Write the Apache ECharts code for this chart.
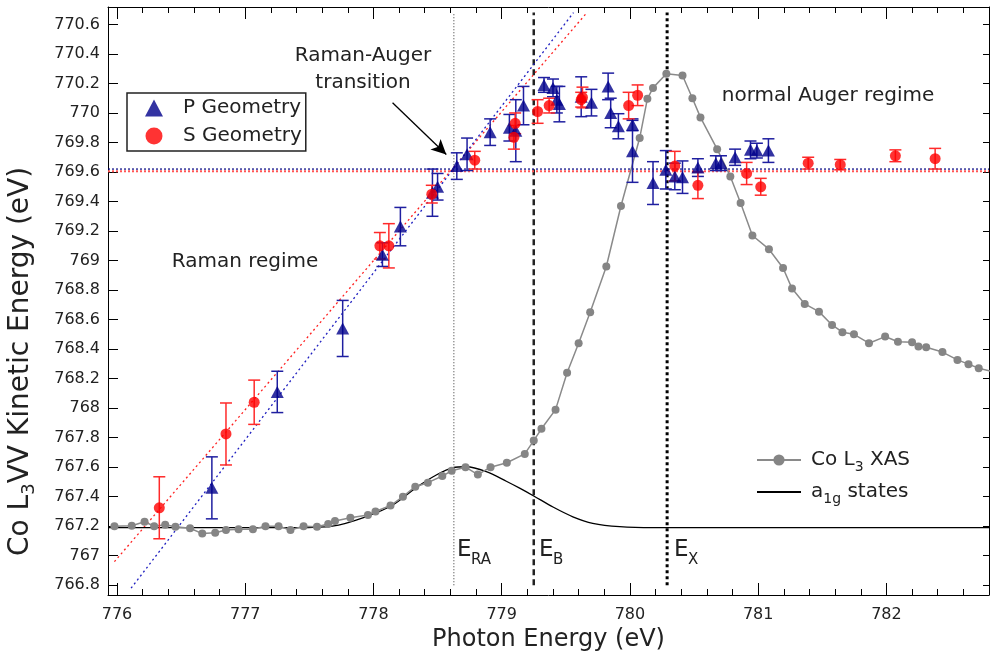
<!DOCTYPE html>
<html>
<head>
<meta charset="utf-8">
<script src="https://cdn.jsdelivr.net/npm/echarts@6/dist/echarts.min.js"></script>
<style>
  body { margin: 0; background: #fff; }
  #chart { width: 990px; height: 658px; }
</style>
</head>
<body>
<div id="chart"></div>
<script>
// axis ranges and ticks
const xMin = 775.93, xMax = 782.8;
const yMin = 766.734, yMax = 770.718;
const xTickLabels = ['776', '777', '778', '779', '780', '781', '782'];
const yTickLabels = ['766.8', '767', '767.2', '767.4', '767.6', '767.8', '768', '768.2', '768.4',
  '768.6', '768.8', '769', '769.2', '769.4', '769.6', '769.8', '770', '770.2', '770.4', '770.6'];
const xMajor = xTickLabels.map(Number);
const yTicks = yTickLabels.map(Number);
const xMinor = [];
for (let k = 1; k < 35; k++) {
  if (k % 5) xMinor.push(Math.round((776 + k * 0.2) * 10) / 10);
}

// P geometry (blue triangles)
const pX = [776.74, 777.25, 777.76, 778.07, 778.21, 778.46, 778.50, 778.65, 778.73, 778.91,
  779.06, 779.11, 779.17, 779.33, 779.40, 779.43, 779.45, 779.62, 779.70, 779.83,
  779.85, 779.91, 780.02, 780.02, 780.18, 780.28, 780.35, 780.41, 780.53, 780.67,
  780.71, 780.82, 780.94, 780.99, 781.08];
const pY = [767.46, 768.11, 768.54, 769.04, 769.23, 769.46, 769.50, 769.64, 769.72, 769.87,
  769.90, 769.88, 770.05, 770.19, 770.17, 770.09, 770.06, 770.11, 770.07, 770.18,
  770.00, 769.91, 769.92, 769.74, 769.525, 769.615, 769.57, 769.565, 769.63, 769.66,
  769.66, 769.70, 769.75, 769.745, 769.745];
const pErr = [0.21, 0.14, 0.19, 0.08, 0.13, 0.16, 0.09, 0.09, 0.11, 0.09,
  0.09, 0.21, 0.13, 0.05, 0.06, 0.09, 0.12, 0.135, 0.09, 0.09,
  0.10, 0.085, 0.04, 0.21, 0.145, 0.13, 0.09, 0.11, 0.06, 0.05,
  0.05, 0.055, 0.06, 0.05, 0.08];

// S geometry (red circles)
const sX = [776.33, 776.85, 777.07, 778.05, 778.12, 778.455, 778.79, 779.095, 779.105, 779.28,
  779.37, 779.63, 779.62, 779.99, 780.06, 780.35, 780.53, 780.91, 781.02, 781.39,
  781.64, 782.07, 782.38];
const sY = [767.325, 767.825, 768.04, 769.10, 769.10, 769.45, 769.68, 769.835, 769.93, 770.01,
  770.05, 770.105, 770.09, 770.05, 770.12, 769.64, 769.51, 769.59, 769.50, 769.66,
  769.65, 769.71, 769.69];
const sErr = [0.21, 0.21, 0.15, 0.09, 0.15, 0.06, 0.06, 0.08, 0.07, 0.08,
  0.05, 0.07, 0.05, 0.09, 0.07, 0.10, 0.09, 0.075, 0.057, 0.04,
  0.035, 0.04, 0.07];

// Co L3 XAS (gray, plotted on the same axes)
const xasX = [775.98, 776.115, 776.215, 776.29, 776.376, 776.456, 776.57, 776.665, 776.766, 776.85,
  776.948, 777.06, 777.158, 777.26, 777.353, 777.455, 777.56, 777.647, 777.70, 777.82,
  777.957, 778.016, 778.133, 778.23, 778.326, 778.424, 778.537, 778.61, 778.718, 778.814,
  778.913, 779.04, 779.18, 779.25, 779.31, 779.42, 779.51, 779.60, 779.69, 779.816,
  779.93, 780.076, 780.136, 780.18, 780.284, 780.41, 780.487, 780.55, 780.68, 780.783,
  780.863, 780.955, 781.084, 781.194, 781.264, 781.363, 781.474, 781.576, 781.657, 781.747,
  781.864, 781.99, 782.09, 782.20, 782.25, 782.31, 782.437, 782.554, 782.64, 782.72, 782.86];
const xasY = [767.20, 767.203, 767.23, 767.20, 767.21, 767.197, 767.186, 767.15, 767.156, 767.174,
  767.18, 767.18, 767.20, 767.20, 767.174, 767.20, 767.197, 767.215, 767.235, 767.258,
  767.276, 767.30, 767.34, 767.40, 767.468, 767.495, 767.54, 767.576, 767.60, 767.55,
  767.60, 767.63, 767.69, 767.78, 767.86, 767.99, 768.24, 768.44, 768.65, 768.96,
  769.37, 769.83, 770.096, 770.17, 770.266, 770.254, 770.10, 769.97, 769.755, 769.57,
  769.39, 769.17, 769.077, 768.95, 768.81, 768.706, 768.654, 768.564, 768.515, 768.50,
  768.44, 768.485, 768.45, 768.447, 768.417, 768.413, 768.38, 768.327, 768.298, 768.27, 768.24];

// a1g states curve (black)
const a1gX = [775.93, 777.4, 777.68, 777.94, 778.15, 778.33, 778.49, 778.62, 778.724, 778.88,
  779.036, 779.14, 779.25, 779.4, 779.555, 779.71, 779.92, 780.18, 782.8];
const a1gY = [767.19, 767.19, 767.2, 767.264, 767.344, 767.46, 767.547, 767.597, 767.603, 767.57,
  767.505, 767.458, 767.405, 767.33, 767.264, 767.22, 767.197, 767.19, 767.19];

// linear fits (dotted) and Auger levels
const fitP = [[776.11, 766.78], [779.56, 770.68]];
const fitS = [[775.98, 766.96], [779.665, 770.68]];
const levelP = 769.62, levelS = 769.605;

// characteristic energies
const eRA = 778.627, eB = 779.25, eX = 780.29;
const vTop = 770.68, vBottom = 766.8;

// arrow for Raman-Auger transition
const arrowFrom = [778.149, 770.069], arrowTo = [778.568, 769.718];

const FONT = 'DejaVu Sans';
const TXT = '#222';
const zip = (xs, ys) => xs.map((x, i) => [x, ys[i]]);
const zip3 = (xs, ys, es) => xs.map((x, i) => [x, ys[i], es[i]]);

function errorBars(name, data, color) {
  return {
    type: 'custom', name: name, data: data, clip: true, z: 3,
    encode: { x: 0, y: 1 },
    renderItem: (params, api) => {
      const x = api.value(0), y = api.value(1), e = api.value(2);
      const hi = api.coord([x, y + e]);
      const lo = api.coord([x, y - e]);
      const w = 6;
      const st = { stroke: color, lineWidth: 1.5 };
      return {
        type: 'group',
        children: [
          { type: 'line', shape: { x1: hi[0], y1: hi[1], x2: lo[0], y2: lo[1] }, style: st },
          { type: 'line', shape: { x1: hi[0] - w, y1: hi[1], x2: hi[0] + w, y2: hi[1] }, style: st },
          { type: 'line', shape: { x1: lo[0] - w, y1: lo[1], x2: lo[0] + w, y2: lo[1] }, style: st }
        ]
      };
    }
  };
}

function plainLine(data, color, width, type, z) {
  return {
    type: 'line', data: data, showSymbol: false, symbol: 'none', silent: true, z: z || 1,
    lineStyle: { color: color, width: width, type: type }
  };
}

const subRich = {
  s: { fontSize: 14, fontFamily: FONT, color: TXT, verticalAlign: 'bottom', lineHeight: 14 }
};

const chart = echarts.init(document.getElementById('chart'));

const tickStyle = { color: '#000', width: 1 };
const xBase = { type: 'value', min: xMin, max: xMax, splitLine: { show: false } };
const yBase = { type: 'value', min: yMin, max: yMax, splitLine: { show: false } };

chart.setOption({
  animation: false,
  backgroundColor: '#fff',
  grid: { left: 108, top: 7, right: 1, bottom: 63, containLabel: false, outerBoundsMode: 'none' },
  xAxis: [
    Object.assign({}, xBase, {
      position: 'bottom',
      axisLine: { show: true, onZero: false, lineStyle: tickStyle },
      axisTick: { inside: true, length: 12, customValues: xMajor, lineStyle: tickStyle },
      axisLabel: { customValues: xMajor, margin: 12, fontSize: 16, fontFamily: FONT, color: TXT },
      name: 'Photon Energy (eV)', nameLocation: 'middle', nameGap: 26,
      nameTextStyle: { fontSize: 24, fontFamily: FONT, color: TXT }
    }),
    Object.assign({}, xBase, {
      position: 'bottom',
      axisLine: { show: false, onZero: false },
      axisTick: { inside: true, length: 6, customValues: xMinor, lineStyle: tickStyle },
      axisLabel: { show: false }
    }),
    Object.assign({}, xBase, {
      position: 'top',
      axisLine: { show: true, onZero: false, lineStyle: tickStyle },
      axisTick: { inside: true, length: 12, customValues: xMajor, lineStyle: tickStyle },
      axisLabel: { show: false }
    }),
    Object.assign({}, xBase, {
      position: 'top',
      axisLine: { show: false, onZero: false },
      axisTick: { inside: true, length: 6, customValues: xMinor, lineStyle: tickStyle },
      axisLabel: { show: false }
    })
  ],
  yAxis: [
    Object.assign({}, yBase, {
      position: 'left',
      axisLine: { show: true, onZero: false, lineStyle: tickStyle },
      axisTick: { inside: true, length: 10, customValues: yTicks, lineStyle: tickStyle },
      axisLabel: {
        customValues: yTicks, margin: 8, fontSize: 16, fontFamily: FONT, color: TXT,
        formatter: v => yTickLabels[yTicks.indexOf(v)] ?? String(v)
      }
    }),
    Object.assign({}, yBase, {
      position: 'right',
      axisLine: { show: true, onZero: false, lineStyle: tickStyle },
      axisTick: { inside: true, length: 6, customValues: yTicks, lineStyle: tickStyle },
      axisLabel: { show: false }
    })
  ],
  legend: [
    {
      data: ['P Geometry', 'S Geometry'],
      orient: 'vertical', left: 127, top: 93,
      padding: [4, 4, 4, 18], itemGap: 6, itemWidth: 18, itemHeight: 17,
      borderColor: '#222', borderWidth: 1.5, borderRadius: 0,
      selectedMode: false,
      textStyle: { fontSize: 20, fontFamily: FONT, color: TXT, lineHeight: 22, padding: [0, 0, 0, 15] }
    },
    {
      data: ['Co L3 XAS', { name: 'a1g states', itemStyle: { opacity: 0 } }],
      orient: 'vertical', left: 756, top: 446,
      padding: 0, itemGap: 4, itemWidth: 44, itemHeight: 14,
      selectedMode: false,
      formatter: name => name === 'Co L3 XAS' ? 'Co L{s|3} XAS' : 'a{s|1g} states',
      textStyle: { fontSize: 20, fontFamily: FONT, color: TXT, lineHeight: 28, padding: [0, 0, 0, 5], rich: subRich }
    }
  ],
  graphic: [
    { type: 'text', x: 21, y: 556, rotation: Math.PI / 2, silent: true,
      style: { text: 'Co L{s|3}VV Kinetic Energy (eV)', fontSize: 28, fontFamily: FONT, fill: TXT,
        align: 'left', verticalAlign: 'middle', lineHeight: 34,
        rich: { s: { fontSize: 18, fontFamily: FONT, fill: TXT, verticalAlign: 'bottom', lineHeight: 18 } } } },
    { type: 'text', x: 363, y: 69, silent: true,
      style: { text: 'Raman-Auger\ntransition', fontSize: 20, fontFamily: FONT, fill: TXT,
        align: 'center', verticalAlign: 'middle', lineHeight: 27 } },
    { type: 'text', x: 245, y: 262, silent: true,
      style: { text: 'Raman regime', fontSize: 20, fontFamily: FONT, fill: TXT, align: 'center', verticalAlign: 'middle' } },
    { type: 'text', x: 828, y: 96, silent: true,
      style: { text: 'normal Auger regime', fontSize: 20, fontFamily: FONT, fill: TXT, align: 'center', verticalAlign: 'middle' } },
    { type: 'text', x: 457, y: 550, silent: true,
      style: { text: 'E', fontSize: 23, fontFamily: FONT, fill: TXT, align: 'left', verticalAlign: 'middle' } },
    { type: 'text', x: 471, y: 560, silent: true,
      style: { text: 'RA', fontSize: 15, fontFamily: FONT, fill: TXT, align: 'left', verticalAlign: 'middle' } },
    { type: 'text', x: 539, y: 550, silent: true,
      style: { text: 'E', fontSize: 23, fontFamily: FONT, fill: TXT, align: 'left', verticalAlign: 'middle' } },
    { type: 'text', x: 553, y: 560, silent: true,
      style: { text: 'B', fontSize: 15, fontFamily: FONT, fill: TXT, align: 'left', verticalAlign: 'middle' } },
    { type: 'text', x: 674, y: 550, silent: true,
      style: { text: 'E', fontSize: 23, fontFamily: FONT, fill: TXT, align: 'left', verticalAlign: 'middle' } },
    { type: 'text', x: 688, y: 560, silent: true,
      style: { text: 'X', fontSize: 15, fontFamily: FONT, fill: TXT, align: 'left', verticalAlign: 'middle' } }
  ],
  series: [
    plainLine([[eRA, vBottom], [eRA, vTop]], '#333', 1, [1, 2]),
    plainLine([[eB, vBottom], [eB, vTop]], '#222', 2.5, [6, 4]),
    plainLine([[eX, vBottom], [eX, vTop]], '#000', 3, [3, 3]),
    plainLine([[xMin, levelS], [xMax, levelS]], '#ff5555', 2, [2, 2]),
    plainLine([[xMin, levelP], [xMax, levelP]], '#000080', 1.2, [2, 2]),
    plainLine(fitS, '#ff2020', 1.3, [2, 3]),
    plainLine(fitP, '#2020c0', 1.3, [2, 3]),
    {
      name: 'a1g states', type: 'line', data: zip(a1gX, a1gY), smooth: 0.3,
      showSymbol: false, symbol: 'none', z: 2,
      lineStyle: { color: '#000', width: 1.3 }, itemStyle: { color: '#000' },
      markLine: {
        silent: true, symbol: ['none', 'arrow'], symbolSize: [11, 15],
        label: { show: false }, lineStyle: { color: '#000', width: 1.3, type: 'solid' },
        data: [[{ coord: arrowFrom }, { coord: arrowTo }]]
      }
    },
    {
      name: 'Co L3 XAS', type: 'line', data: zip(xasX, xasY), z: 2,
      symbol: 'circle', symbolSize: 8, showSymbol: true,
      lineStyle: { color: '#8a8a8a', width: 1.5 }, itemStyle: { color: '#858585' }
    },
    errorBars('P err', zip3(pX, pY, pErr), '#1f1fa0'),
    errorBars('S err', zip3(sX, sY, sErr), '#ff2a2a'),
    {
      name: 'P Geometry', type: 'scatter', data: zip(pX, pY), z: 4,
      symbol: 'triangle', symbolSize: [13, 12], itemStyle: { color: '#00008b' }
    },
    {
      name: 'S Geometry', type: 'scatter', data: zip(sX, sY), z: 4,
      symbol: 'circle', symbolSize: 11, itemStyle: { color: '#ff0000' }
    }
  ]
});
</script>
</body>
</html>
